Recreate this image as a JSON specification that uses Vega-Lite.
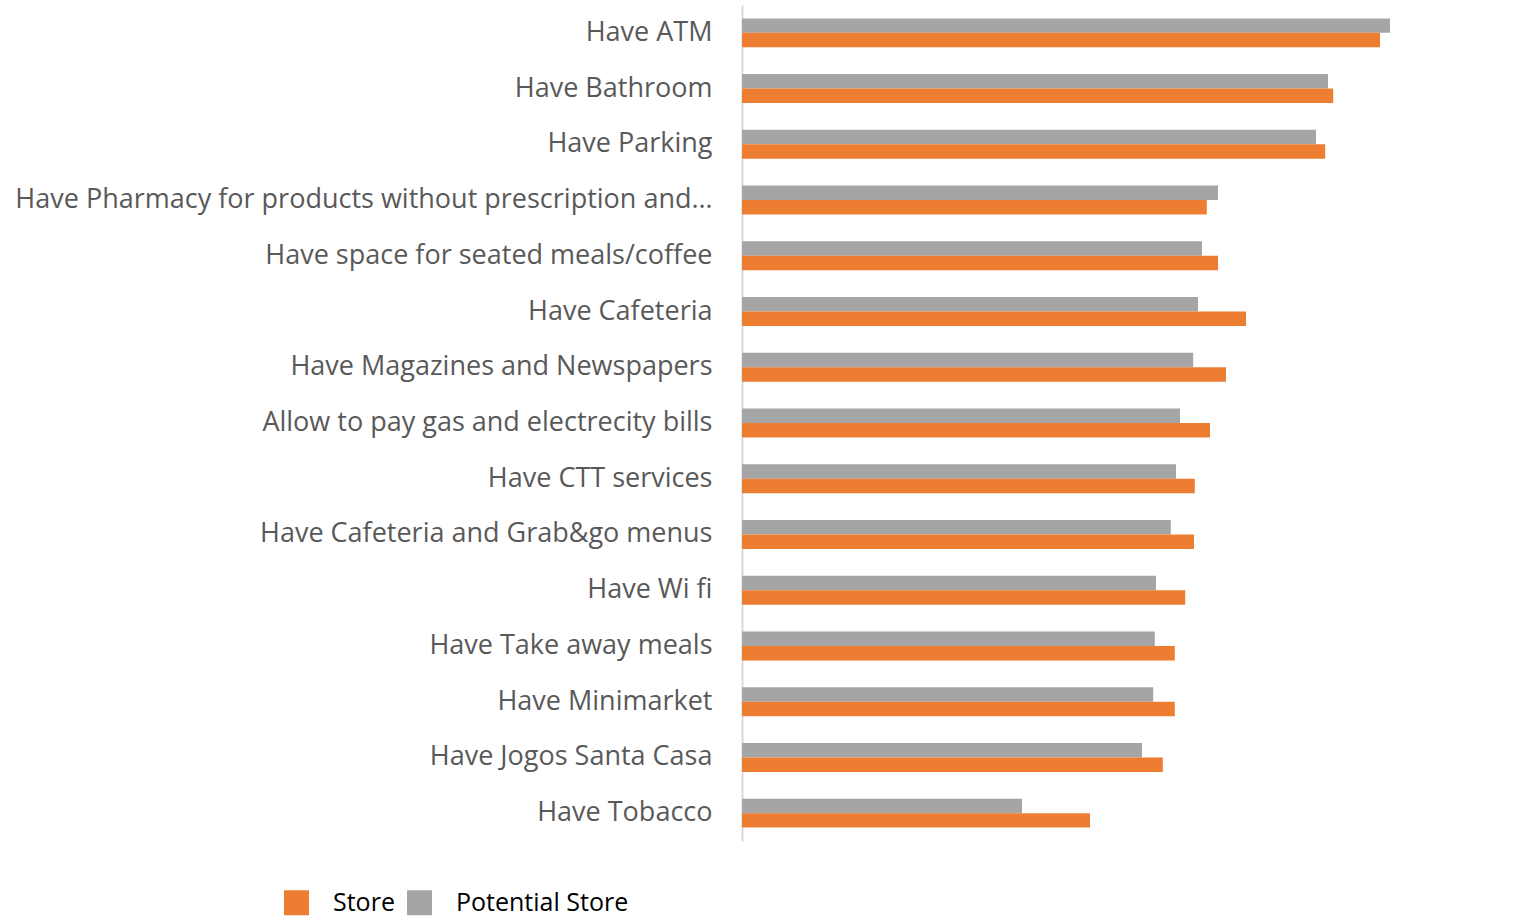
{
  "$schema": "https://vega.github.io/schema/vega-lite/v6.json",
  "autosize": "none",
  "width": 760,
  "height": 836,
  "padding": {"left": 742, "top": 5, "right": 17, "bottom": 78},
  "background": "white",
  "config": {"view": {"stroke": null}},
  "data": {
    "values": [
      {"feature": "Have ATM", "series": "Potential Store", "value": 81.0},
      {"feature": "Have ATM", "series": "Store", "value": 79.75},
      {"feature": "Have Bathroom", "series": "Potential Store", "value": 73.25},
      {"feature": "Have Bathroom", "series": "Store", "value": 73.9},
      {"feature": "Have Parking", "series": "Potential Store", "value": 71.75},
      {"feature": "Have Parking", "series": "Store", "value": 72.9},
      {"feature": "Have Pharmacy for products without prescription and…", "series": "Potential Store", "value": 59.5},
      {"feature": "Have Pharmacy for products without prescription and…", "series": "Store", "value": 58.1},
      {"feature": "Have space for seated meals/coffee", "series": "Potential Store", "value": 57.5},
      {"feature": "Have space for seated meals/coffee", "series": "Store", "value": 59.5},
      {"feature": "Have Cafeteria", "series": "Potential Store", "value": 57.0},
      {"feature": "Have Cafeteria", "series": "Store", "value": 63.0},
      {"feature": "Have Magazines and Newspapers", "series": "Potential Store", "value": 56.4},
      {"feature": "Have Magazines and Newspapers", "series": "Store", "value": 60.5},
      {"feature": "Allow to pay gas and electrecity bills", "series": "Potential Store", "value": 54.75},
      {"feature": "Allow to pay gas and electrecity bills", "series": "Store", "value": 58.5},
      {"feature": "Have CTT services", "series": "Potential Store", "value": 54.25},
      {"feature": "Have CTT services", "series": "Store", "value": 56.6},
      {"feature": "Have Cafeteria and Grab&go menus", "series": "Potential Store", "value": 53.6},
      {"feature": "Have Cafeteria and Grab&go menus", "series": "Store", "value": 56.5},
      {"feature": "Have Wi fi", "series": "Potential Store", "value": 51.75},
      {"feature": "Have Wi fi", "series": "Store", "value": 55.4},
      {"feature": "Have Take away meals", "series": "Potential Store", "value": 51.6},
      {"feature": "Have Take away meals", "series": "Store", "value": 54.1},
      {"feature": "Have Minimarket", "series": "Potential Store", "value": 51.4},
      {"feature": "Have Minimarket", "series": "Store", "value": 54.1},
      {"feature": "Have Jogos Santa Casa", "series": "Potential Store", "value": 50.0},
      {"feature": "Have Jogos Santa Casa", "series": "Store", "value": 52.6},
      {"feature": "Have Tobacco", "series": "Potential Store", "value": 35.0},
      {"feature": "Have Tobacco", "series": "Store", "value": 43.5}
    ]
  },
  "mark": {"type": "bar"},
  "encoding": {
    "y": {
      "field": "feature",
      "type": "nominal",
      "sort": null,
      "scale": {"paddingInner": 0.48, "paddingOuter": 0.24},
      "axis": {
        "title": null,
        "ticks": false,
        "domain": true,
        "domainColor": "#d9d9d9",
        "domainWidth": 2,
        "labelFont": "Open Sans",
        "labelFontSize": 27,
        "labelColor": "#595959",
        "labelPadding": 30,
        "labelLimit": 740
      }
    },
    "yOffset": {
      "field": "series",
      "type": "nominal",
      "sort": ["Potential Store", "Store"],
      "scale": {"paddingInner": 0, "paddingOuter": 0}
    },
    "x": {
      "field": "value",
      "type": "quantitative",
      "scale": {"domain": [0, 95], "nice": false},
      "axis": null
    },
    "color": {
      "field": "series",
      "type": "nominal",
      "scale": {"domain": ["Store", "Potential Store"], "range": ["#ed7d31", "#a5a5a5"]},
      "legend": {
        "title": null,
        "orient": "none",
        "direction": "horizontal",
        "legendX": -458,
        "legendY": 885,
        "symbolType": "square",
        "symbolSize": 625,
        "symbolStrokeWidth": 0,
        "labelFont": "Open Sans",
        "labelFontSize": 25,
        "labelColor": "#000000",
        "labelOffset": 24,
        "labelLimit": 400,
        "columnPadding": 12
      }
    }
  }
}
